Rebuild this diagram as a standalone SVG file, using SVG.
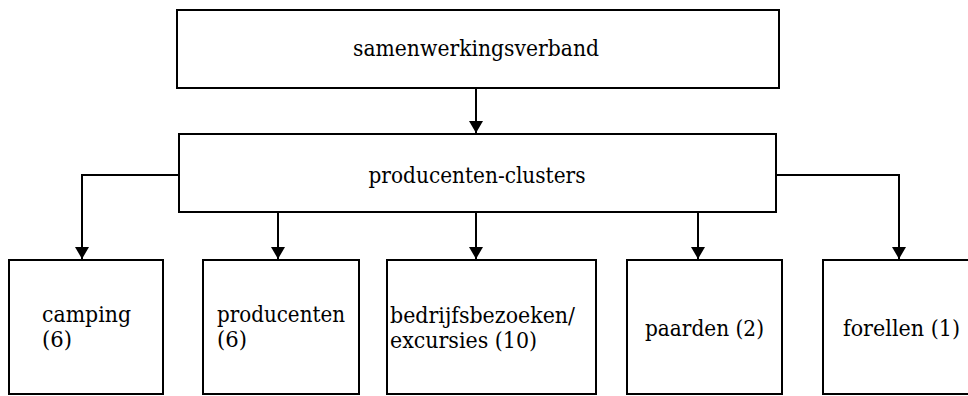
<svg xmlns="http://www.w3.org/2000/svg" width="968" height="396" viewBox="0 0 968 396">
<style>
.box{fill:#fff;stroke:#000;stroke-width:2}
.t{font-family:'DejaVu Serif','Liberation Serif',serif;font-size:23px;fill:#000}
.c{text-anchor:middle}
.ln{fill:none;stroke:#000;stroke-width:2}
</style>
<defs>
<marker id="ah" viewBox="0 0 12 14" refX="12" refY="7" markerWidth="12" markerHeight="14" markerUnits="userSpaceOnUse" orient="auto">
<path d="M0,0 L12,7 L0,14 Z" fill="#000"/>
</marker>
</defs>
<rect width="968" height="396" fill="#fff"/>
<g id="connectors">
<path class="ln" d="M476,88 V133" marker-end="url(#ah)"/>
<path class="ln" d="M179,175 H82 V259" marker-end="url(#ah)"/>
<path class="ln" d="M278,212 V259" marker-end="url(#ah)"/>
<path class="ln" d="M476,212 V259" marker-end="url(#ah)"/>
<path class="ln" d="M698,212 V259" marker-end="url(#ah)"/>
<path class="ln" d="M776,175 H899 V259" marker-end="url(#ah)"/>
</g>
<g id="samenwerkingsverband">
<rect class="box" x="177" y="10" width="602" height="78"/>
<text class="t c" x="476" y="56" textLength="246" lengthAdjust="spacingAndGlyphs">samenwerkingsverband</text>
</g>
<g id="producenten-clusters">
<rect class="box" x="179" y="134" width="597" height="78"/>
<text class="t c" x="477" y="183" textLength="217" lengthAdjust="spacingAndGlyphs">producenten-clusters</text>
</g>
<g id="camping">
<rect class="box" x="9" y="260" width="154" height="134"/>
<text class="t" x="42" y="322" textLength="89" lengthAdjust="spacingAndGlyphs">camping</text>
<text class="t" x="42" y="347" textLength="30" lengthAdjust="spacingAndGlyphs">(6)</text>
</g>
<g id="producenten">
<rect class="box" x="203" y="260" width="156" height="134"/>
<text class="t" x="217" y="322" textLength="128" lengthAdjust="spacingAndGlyphs">producenten</text>
<text class="t" x="217" y="347" textLength="30" lengthAdjust="spacingAndGlyphs">(6)</text>
</g>
<g id="bedrijfsbezoeken">
<rect class="box" x="387" y="260" width="209" height="134"/>
<text class="t" x="390" y="323" textLength="185" lengthAdjust="spacingAndGlyphs">bedrijfsbezoeken/</text>
<text class="t" x="390" y="348" textLength="147" lengthAdjust="spacingAndGlyphs">excursies (10)</text>
</g>
<g id="paarden">
<rect class="box" x="627" y="260" width="155" height="134"/>
<text class="t" x="645" y="336" textLength="119" lengthAdjust="spacingAndGlyphs">paarden (2)</text>
</g>
<g id="forellen">
<rect class="box" x="823" y="260" width="150" height="134"/>
<text class="t" x="843" y="336" textLength="117" lengthAdjust="spacingAndGlyphs">forellen (1)</text>
</g>
</svg>
